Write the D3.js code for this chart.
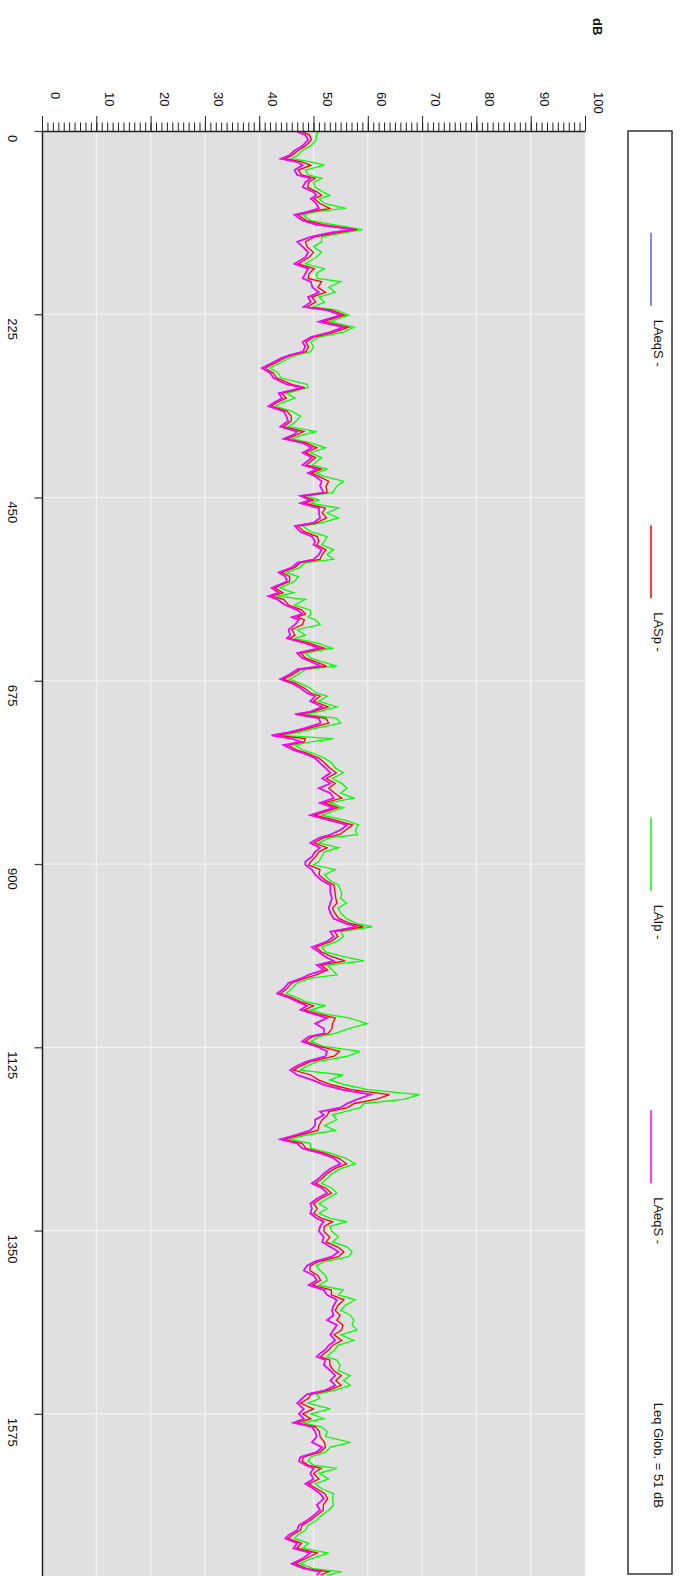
<!DOCTYPE html>
<html>
<head>
<meta charset="utf-8">
<script src="https://cdn.jsdelivr.net/npm/d3@7"></script>
<style>
  body { margin: 0; background: #fff; }
  svg { display: block; font-family: "Liberation Sans", Arial, sans-serif; }
</style>
</head>
<body>
<script>
// time axis (seconds) and levels in dB
const secs = [
  1,5,11,18,24,30,34,38,42,48,
  54,58,63,69,75,79,83,89,95,99,
  103,110,115,121,125,130,136,142,149,155,
  163,169,175,181,185,192,198,204,210,216,
  220,226,234,241,247,253,259,265,271,275,
  279,286,291,297,303,311,315,322,328,334,
  338,344,350,356,363,369,373,378,383,389,
  395,401,410,415,420,424,430,436,444,448,
  453,457,463,469,475,481,485,492,498,504,
  508,514,520,526,530,536,542,547,553,561,
  567,571,575,582,588,593,597,600,606,612,
  619,623,629,635,641,647,651,657,661,668,
  673,678,684,690,694,700,707,713,716,721,
  727,733,738,742,746,750,754,760,764,770,
  776,782,788,795,801,807,813,819,825,831,
  840,846,852,858,864,868,874,880,885,891,
  897,901,907,913,920,926,932,936,942,948,
  954,960,967,973,977,983,989,995,1002,1008,
  1014,1019,1024,1030,1036,1040,1046,1053,1059,1064,
  1069,1074,1079,1084,1089,1096,1102,1108,1112,1118,
  1124,1130,1136,1143,1149,1153,1159,1165,1171,1177,
  1183,1189,1194,1199,1204,1208,1214,1221,1227,1233,
  1238,1243,1249,1255,1261,1268,1274,1280,1286,1292,
  1298,1304,1311,1317,1323,1329,1335,1339,1345,1351,
  1358,1364,1370,1376,1382,1388,1393,1399,1405,1411,
  1417,1423,1429,1435,1442,1448,1454,1460,1466,1472,
  1478,1485,1491,1496,1501,1505,1509,1515,1522,1528,
  1534,1540,1546,1551,1556,1562,1569,1575,1581,1586,
  1591,1597,1603,1610,1616,1622,1628,1633,1638,1642,
  1648,1655,1661,1667,1673,1679,1687,1693,1700,1706,
  1712,1718,1724,1728,1734,1740,1746,1753,1759,1765,1769,1773
];

const laeqS = [
  47,48.5,49,48,46.5,45.5,44,47,48,46.5,
  47,49.5,48.5,48,50,50.5,49.5,50.5,51,49,
  46.5,48,50.5,57.4,53,49.5,47,48,49,48.5,
  46.5,49,48.5,48,49.5,49.8,51,49,49.5,48.2,
  52.5,55,51,55.5,53,49.5,48,48.5,48,45.7,
  44,42,40.5,42,42.6,45,48,43.6,44.2,42.6,
  41.7,44.5,45,45.3,43.9,47,46.3,44.5,48,49.7,
  48,49.7,48,50.6,49,50.3,51.5,51.2,51.9,47.6,
  49.4,47.6,51,51,51.2,50,46.6,47.6,49.7,50.3,
  50,51.5,51,50,47,46,43.6,44.8,45.1,42.3,
  43.6,41.7,43.3,44.8,47,47.9,46,47.3,46.6,45.4,
  45.7,45.1,48.5,51,47,47.9,49.4,51.2,47,45.4,
  43.9,46,47.6,48.8,50.3,49.4,51.6,49.4,46.6,51,
  51.3,48.5,45.7,42.3,46,47.6,44.5,46.3,48.2,50.3,
  51.2,52.2,53.1,51.6,53.1,51,53.1,53.7,51.2,53.7,
  49.4,52.8,56.2,55,53.1,51,49.4,51.2,50.3,49.7,
  48.5,48.5,49.7,50.3,51.5,53.1,53.1,53.1,53.4,53.1,
  52.8,53.1,53.7,55.9,58,53.1,53.7,52.5,49.7,51,
  52.2,53.7,50.6,51.9,49.1,47.9,45.4,44.5,43.3,45.4,
  47,48.8,47.6,50,52.5,50.3,51.9,51.9,49.1,47.9,
  50.6,52.5,52.2,48.5,46.6,45.7,47,49.7,51.9,55.3,
  60.5,58,56.2,55,51.2,51.9,50.3,50.3,49.4,46.6,
  43.9,47,47.9,51.2,53.7,55,53.1,51.9,51,49.7,
  51.6,52.5,50.6,49.4,49.7,49.4,50.6,51.9,51.2,51,
  51.9,51.6,53.1,54.6,53.4,50.3,48.8,48.2,50,50.6,
  49.1,51.9,52.5,54.3,53.7,53.4,53.7,52.5,54.3,53.7,
  53.1,54,52.8,52.2,51.2,50.6,52.2,51.9,53.1,54,
  53.1,54,52.2,48.8,47.9,47,48.2,47.3,48.2,46.3,
  49.7,50.3,50.6,49.7,51.6,50.6,47.6,47.3,48.5,50,
  49.4,50,48.5,50,51.2,51.9,50.6,51.2,50,48.8,
  47.3,47,45.4,44.8,47,46.3,49.4,47.9,46,48.2,51.2,50.6
];

const laSp = [
  48,49.3,49.6,48.6,47.2,46,44.8,47.8,49.5,47.2,
  47.8,50.3,49.1,48.9,50.7,51.5,50.1,51.2,53,49.6,
  47.1,48.7,51.8,58,54.2,50.2,48.5,48.8,50,49.2,
  47.2,50.1,49.2,49,51.5,50.8,52.2,49.7,50.4,48.9,
  53.3,55.7,51.8,56.4,53.9,50.1,48.6,49.1,48.6,46.2,
  44.6,42.6,41.1,42.6,43.2,46,48.4,44.1,45,43.1,
  42.2,45.1,45.9,45.9,44.5,48.2,46.9,45,48.6,50.6,
  48.6,50.4,48.7,51.4,49.6,51,52.8,52.3,52.5,48.1,
  50,48.3,52.2,51.6,52.4,50.6,47.1,48.3,50.7,51,
  50.6,52.3,51.6,51.2,47.6,46.5,44.1,45.6,45.6,42.8,
  44.4,42.2,44.5,45.4,47.8,48.5,47,48.3,48,46,
  46.6,45.6,49.4,52,47.6,48.5,50.1,52.4,47.6,46,
  44.4,46.6,48.3,49.5,51.2,50,52.7,50,47.4,52.3,
  52.8,49.3,46.4,43.2,48.5,48.3,45.2,47,48.9,51,
  52.1,53,54.2,52.4,54,52.8,53.9,55.2,52,54.5,
  50.2,54,57.2,56,54.8,51.8,50.1,52.5,51,50.4,
  49.5,49.1,51.2,51,52.2,53.8,53.9,54,54.1,54.3,
  53.5,53.9,54.7,56.8,59.2,53.9,54.5,53.2,50.4,51.5,
  53.5,55.8,51.3,52.6,50.5,48.5,46,45.1,43.9,46,
  47.6,50,48.3,50.8,54,53.5,53.4,52.7,49.8,48.5,
  51.1,54.8,53.8,49.3,47.3,46.3,49.5,50.9,53.3,57,
  64,61.5,57.5,56.3,52.8,52.6,51.6,51,50.8,47.3,
  44.5,47.9,48.6,52,54.6,56.1,53.9,52.5,51.6,50.4,
  52.3,53.3,51.3,50,50.7,50,51.5,53.5,52,51.9,
  53,52.3,54.4,55.6,54.6,51,49.4,49.3,50.8,51.3,
  49.8,53.3,53.3,55.6,54.5,54,54.9,54.3,55.4,55.2,
  53.8,55.2,53.5,52.9,52,51.3,53,53,53.7,55.1,
  54.1,55.1,52.9,49.5,49.1,47.6,50,48,49.5,46.9,
  50.4,51.1,51.2,52,52.2,51.2,48.2,47.9,49,51.4,
  50,51,49.1,50.6,52.1,52.6,51.8,51.8,50.6,49.4,
  47.9,47.6,46,45.3,47.8,46.9,50.7,48.5,46.6,48.8,52.8,51.3
];

const laIp = [
  51,50.5,50.5,49.5,48,47,46,49.5,52,48.5,
  49,51.5,50,50.3,51.8,53,51,52,56,50.5,
  48,49.5,53.7,59,55.5,51.5,51.5,50,51.5,50.5,
  48.5,52,50.5,50.7,55,52.8,54,51,52,50,
  54.3,56.5,53,57.5,55.5,51,49.5,50,49.5,47,
  45.5,43.5,42,43.5,44,48.8,49,45,46.6,44,
  43,46,47.6,46.8,45.5,50.6,48,46,49.5,52.2,
  49.5,51.5,49.8,52.5,50.5,52,55.5,54.3,53.5,49,
  51,49.5,54.6,52.5,54.6,51.5,48,49.5,52.5,52,
  51.5,53.7,52.5,53.7,48.5,47.5,45,47.2,46.5,43.8,
  46.4,43.2,48.5,46.5,49.4,49.5,49,50.3,51.2,47,
  48.5,46.5,51,53.4,48.5,49.5,51.2,54.3,48.5,47,
  45.5,47.5,49.4,50.5,52.5,51,54.3,51,48.5,54.3,
  55,50.5,47.5,44,53.7,49.5,46.5,48,50,52,
  53.4,54,55.5,53.5,55.2,56.2,55,57.4,53,55.5,
  51.5,55.8,58.3,57.7,58,53,51,54.6,52,51.5,
  51,50,54,52,53,54.6,55,55.2,55,56.1,
  54.5,55,56.1,57.9,60.8,55,55.5,54.3,51.5,52.2,
  55.8,59.3,52.5,53.5,54.3,49.5,47,46,45,47,
  48.5,52.2,49.5,52,56.5,59.9,56.5,54,51,49.5,
  51.9,58.6,56.2,50.5,48.5,47.5,55.5,53,55.8,60,
  69.5,66.6,59.3,58.6,55.8,53.5,54.3,52,54,48.5,
  45.5,49.4,49.5,53.1,55.9,57.7,55,53.5,52.5,51.5,
  53.4,54.3,52.5,51,52.5,51,53.1,56.2,53,53.4,
  54.6,53.5,56.2,57.1,56.5,52,50.5,51.2,52.2,52.5,
  51,55.5,54.6,57.7,55.8,55,56.8,57.4,57.1,58,
  55,57.4,54.5,54,53.1,52.5,54.3,54.9,54.6,56.8,
  55.5,56.8,54,50.5,51.2,49,53.1,49.5,51.9,48,
  51.5,52.5,52.2,56.8,53.1,52.2,49.5,49,50,54.3,
  51,52.8,50.3,51.5,53.7,53.5,53.7,52.8,51.5,50.5,
  49,48.5,47,46.5,49.1,48,52.8,49.5,47.5,50,55.2,52.5
];

const dbTicks = [0, 10, 20, 30, 40, 50, 60, 70, 80, 90, 100];
const timeTicks = [0, 225, 450, 675, 900, 1125, 1350, 1575];
const legendNames = ['LAeqS -', 'LASp -', 'LAIp -', 'LAeqS -'];
const legendColors = ['#5a5aff', '#ff0000', '#00ff00', '#ff00ff'];
const globalLabel = 'Leq Glob. = 51 dB';

const W = 680, H = 1576;
const svg = d3.select('body').append('svg')
  .attr('width', W)
  .attr('height', H);

// the chart is drawn turned a quarter: dB runs left->right, time runs down
const x = d3.scaleLinear().domain([0, 100]).range([42, 585]);
const y = d3.scaleLinear().domain([0, 1775]).range([131, 1576.7]);

// plot background
svg.append('rect')
  .attr('x', x(0)).attr('y', y(0))
  .attr('width', x(100) - x(0))
  .attr('height', y(1775) - y(0))
  .attr('fill', '#e0e0e0');

// grid
svg.append('g').selectAll('line')
  .data(dbTicks.filter(d => d > 0 && d < 100))
  .join('line')
  .attr('x1', d => x(d)).attr('x2', d => x(d))
  .attr('y1', y(0)).attr('y2', y(1775))
  .attr('stroke', '#f4f4f4').attr('stroke-width', 1.2);

svg.append('g').selectAll('line')
  .data(timeTicks.filter(d => d > 0))
  .join('line')
  .attr('x1', x(0)).attr('x2', x(100))
  .attr('y1', d => y(d)).attr('y2', d => y(d))
  .attr('stroke', '#f4f4f4').attr('stroke-width', 1.2);

// series
const defs = svg.append('defs');
defs.append('clipPath').attr('id', 'plot')
  .append('rect')
  .attr('x', x(0)).attr('y', y(0))
  .attr('width', x(100) - x(0)).attr('height', y(1775) - y(0));

const line = d3.line()
  .x(d => x(d[1]))
  .y(d => y(d[0]));

const series = [
  { vals: laeqS, color: legendColors[0], w: 1.4 },
  { vals: laIp, color: legendColors[2], w: 1.3 },
  { vals: laSp, color: legendColors[1], w: 1.3 },
  { vals: laeqS, color: legendColors[3], w: 1.6 }
];

const plot = svg.append('g').attr('clip-path', 'url(#plot)');
series.forEach(s => {
  plot.append('path')
    .datum(secs.map((t, i) => [t, s.vals[i]]))
    .attr('d', line)
    .attr('fill', 'none')
    .attr('stroke', s.color)
    .attr('stroke-width', s.w)
    .attr('stroke-linejoin', 'miter');
});

// dB axis along the top: minor every 1 dB, major every 10
svg.append('g')
  .attr('transform', `translate(0,${y(0)})`)
  .call(d3.axisTop(x).tickValues(d3.range(0, 101, 1)).tickSize(8.5).tickSizeOuter(0).tickFormat(''))
  .call(g => g.selectAll('line').attr('stroke', '#222'))
  .call(g => g.select('.domain').attr('stroke', '#222').attr('stroke-width', 1.5));

svg.append('g')
  .attr('transform', `translate(0,${y(0)})`)
  .call(d3.axisTop(x).tickValues(dbTicks).tickSize(15).tickSizeOuter(0).tickFormat(''))
  .call(g => g.select('.domain').remove())
  .call(g => g.selectAll('line').attr('stroke', '#222'));

// time axis on the left
svg.append('g')
  .attr('transform', `translate(${x(0)},0)`)
  .call(d3.axisLeft(y).tickValues(timeTicks).tickSize(7.5).tickSizeOuter(0).tickFormat(''))
  .call(g => g.selectAll('line').attr('stroke', '#444').attr('stroke-width', 1.3))
  .call(g => g.select('.domain').attr('stroke', '#222').attr('stroke-width', 1.5));

// rotated tick labels
svg.append('g').selectAll('text')
  .data(dbTicks)
  .join('text')
  .attr('transform', d => `translate(${x(d) + 9},92) rotate(90)`)
  .attr('font-size', 13)
  .attr('fill', '#111')
  .text(d => d);

svg.append('g').selectAll('text')
  .data(timeTicks)
  .join('text')
  .attr('transform', d => `translate(8,${y(d) + 4}) rotate(90)`)
  .attr('font-size', 13)
  .attr('fill', '#111')
  .text(d => d);

svg.append('text')
  .attr('transform', 'translate(593,18) rotate(90)')
  .attr('font-size', 13)
  .attr('font-weight', 'bold')
  .attr('fill', '#111')
  .text('dB');

// legend box
svg.append('rect')
  .attr('x', 628).attr('y', 131)
  .attr('width', 44).attr('height', 1443)
  .attr('fill', '#fff')
  .attr('stroke', '#333').attr('stroke-width', 1.5);

const legend = svg.append('g').selectAll('g')
  .data(legendNames)
  .join('g')
  .attr('transform', (_, i) => `translate(0,${232.7 + i * 292.5})`);

legend.append('line')
  .attr('x1', 651).attr('x2', 651)
  .attr('y1', 0).attr('y2', 73)
  .attr('stroke', (_, i) => legendColors[i])
  .attr('stroke-width', 1.5);

legend.append('text')
  .attr('transform', 'translate(654,87) rotate(90)')
  .attr('font-size', 13)
  .attr('fill', '#111')
  .text(d => d);

svg.append('text')
  .attr('transform', `translate(654,${232.7 + 4 * 292.5}) rotate(90)`)
  .attr('font-size', 13)
  .attr('fill', '#111')
  .text(globalLabel);
</script>
</body>
</html>
